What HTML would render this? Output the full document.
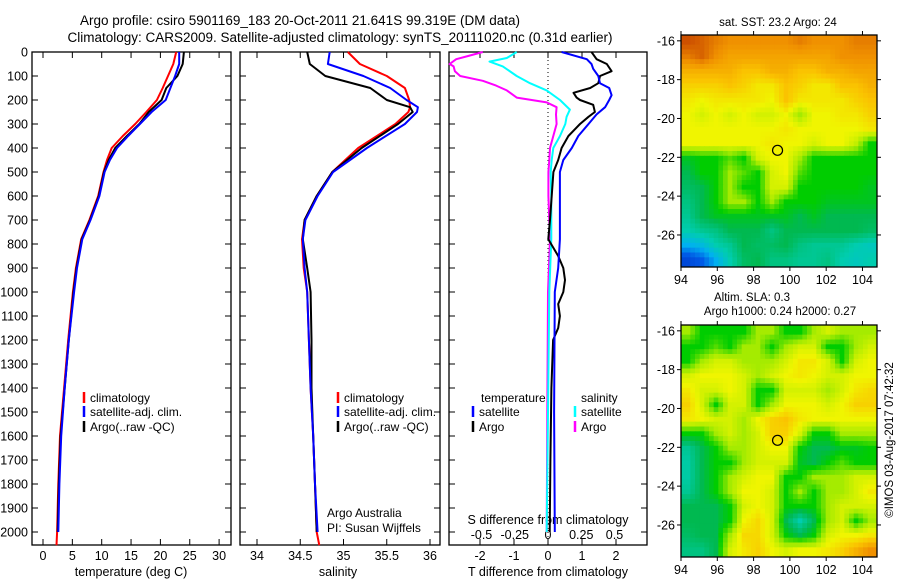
<!DOCTYPE html>
<html><head><meta charset="utf-8"><style>
body{margin:0;background:#fff}
svg{display:block;font-family:"Liberation Sans",sans-serif}
</style></head><body>
<svg id="c" width="900" height="580" viewBox="0 0 900 580">
<text x="300" y="25" font-size="13.5" text-anchor="middle">Argo profile: csiro 5901169_183 20-Oct-2011 21.641S 99.319E (DM data)</text>
<text x="340" y="42" font-size="13.5" text-anchor="middle">Climatology: CARS2009. Satellite-adjusted climatology: synTS_20111020.nc (0.31d earlier)</text>
<text x="778" y="26" font-size="11.5" text-anchor="middle">sat. SST: 23.2 Argo: 24</text>
<text x="752" y="301" font-size="11.5" text-anchor="middle">Altim. SLA: 0.3</text>
<text x="780" y="315" font-size="11.5" text-anchor="middle">Argo h1000: 0.24 h2000: 0.27</text>
<text transform="translate(893,440) rotate(-90)" font-size="11.5" text-anchor="middle">©IMOS 03-Aug-2017 07:42:32</text>
<g id="g"></g>
</svg>
<script>
// ---- data ----
const yTicks=[0,100,200,300,400,500,600,700,800,900,1000,1100,1200,1300,1400,1500,1600,1700,1800,1900,2000];
const tTicks=[0,5,10,15,20,25,30];
const sTicks=[34,34.5,35,35.5,36];
const tdTicks=[-2,-1,0,1,2];
const sdTicks=[-0.5,-0.25,0,0.25,0.5];
const sdTickLabels=["-0.5","-0.25","0","0.25","0.5"];
const tDepthRed=[0,50,100,150,200,250,300,350,400,450,500,600,700,780,900,1000,1200,1400,1600,1800,2000,2055];
const tRed=[22.7,22.2,21.3,20.4,19.4,17.6,15.7,13.6,11.7,10.9,10.3,9.4,7.9,6.5,5.6,5.1,4.3,3.6,2.9,2.6,2.4,2.3];
const tDepth=[0,50,100,150,200,250,300,350,400,450,500,600,700,780,900,1000,1200,1400,1600,1800,2000];
const tBlack=[24,23.8,22.9,21,20.2,18,16.4,14.3,12.3,11.2,10.4,9.5,8,6.6,5.7,5.2,4.4,3.7,3.0,2.7,2.5];
const tBlue=[23.2,23.2,22.5,21.7,20.9,18.5,16.5,14.5,12.6,11.4,10.5,9.6,8.1,6.7,5.8,5.3,4.4,3.7,3.1,2.8,2.6];
const sDepthRed=[0,50,100,150,200,230,250,300,400,500,600,700,780,900,1000,1200,1400,1600,1800,2000,2055];
const sRed=[35.05,35.19,35.5,35.71,35.76,35.77,35.75,35.6,35.17,34.87,34.69,34.55,34.52,34.54,34.58,34.6,34.62,34.65,34.67,34.69,34.72];
const sDepth=[0,50,100,150,200,230,250,300,400,500,600,700,780,900,1000,1200,1400,1600,1800,2000];
const sBlue=[34.84,34.82,35.23,35.54,35.73,35.86,35.85,35.71,35.27,34.88,34.70,34.56,34.53,34.55,34.58,34.6,34.62,34.65,34.67,34.70];
const sBlack=[34.58,34.61,34.79,35.31,35.5,35.77,35.8,35.63,35.21,34.87,34.69,34.55,34.53,34.58,34.62,34.63,34.63,34.65,34.67,34.69];
const dBlackDepth=[0,30,50,80,100,130,150,170,190,200,220,250,270,300,350,400,450,500,600,700,780,850,900,950,1000,1050,1100,1150,1200,1400,1700,2000];
const dBlackT=[1.28,1.43,1.73,1.87,1.53,1.48,1.24,0.75,0.84,0.94,1.33,1.38,1.19,0.94,0.6,0.4,0.3,0.16,0.11,0.06,0.01,0.3,0.45,0.5,0.45,0.3,0.35,0.3,0.15,0.1,0.07,0.05];
const dBlueDepth=[0,30,50,70,100,130,150,180,200,230,260,300,350,400,450,500,600,700,780,900,1000,1500,2000];
const dBlueT=[0.4,1.14,1.28,1.33,1.48,1.53,1.8,1.87,1.8,1.68,1.43,1.19,0.89,0.7,0.45,0.35,0.35,0.35,0.35,0.3,0.2,0.18,0.2];
const dCyanDepth=[0,25,40,60,100,130,160,200,240,270,300,350,400,450,500,600,700,780,1000,1500,2000];
const dCyanS=[-0.235,-0.31,-0.44,-0.34,-0.235,-0.135,-0.01,0.09,0.165,0.14,0.13,0.09,0.04,0.028,0.02,0.025,0.025,0.025,0.01,0.0,-0.01];
const dMagDepth=[0,15,30,50,60,80,100,120,140,160,190,210,230,260,300,350,400,450,500,600,780,1000,1500,2000];
const dMagS=[-0.49,-0.59,-0.69,-0.74,-0.71,-0.7,-0.66,-0.49,-0.39,-0.31,-0.235,-0.01,0.065,0.06,0.065,0.04,0.015,0.01,0.003,0.003,0.015,0.0,-0.005,-0.01];
const lonTicks=[94,96,98,100,102,104];
const latTicks=[-16,-18,-20,-22,-24,-26];
const sstGrid=[
[9,8.8,8.5,8.3,8.3,8.3,8.3,8.3,8.5,8.3,8.3,8.3,8.5,8.5],
[8.5,8.8,8.3,8,8,8,8,8,8,8,8,8.3,8.3,8.3],
[7.8,7.8,7.8,7.8,7.5,7.5,7.8,7.8,7.5,7.5,7.8,7.8,8,8],
[7.3,7.3,7.3,7.5,7.3,7,7,7.5,7.3,7,7,7.5,7.5,7.8],
[7,6.8,7,7,7,7,6.8,7.5,7,7,7,7,7.3,7.5],
[6.8,6.5,6.8,6.5,6.8,6.5,6.5,6.8,6,6.8,6.8,7,7,7.3],
[6.8,6.8,6.8,6.8,6.8,6.8,6.8,7,6.8,6.8,6.8,6.8,6.8,7],
[6.8,6.8,6.8,6.8,6.8,6.8,7,6.8,6.8,6.5,6.8,6.8,6.3,5],
[4.8,5,5,5.5,5,6.5,6.8,6.8,6,5,5,5,5,5],
[4.5,5,5,6,5.5,5,6.5,6.8,5.5,5,5,5,5,5],
[4.3,4.5,5,6,5,5,6.5,6.5,5,5,5,5,5,4.8],
[4,4.5,5,6,6,5,6,5,5,5,4.8,4.8,4.8,4.8],
[3.8,4.5,4.8,4.8,4.8,4.8,4.8,4.8,4.5,4.8,4.5,4.5,4.5,4.5],
[3.5,3.8,4,4.5,4.5,4.5,4,4.5,4.5,4.5,4.5,4.5,4.5,4.3],
[2.5,2.8,3.5,3.8,4.5,4.3,4.3,4.5,4,3.8,3.8,3.8,3.5,3.3],
[1,1.5,2.5,3.5,4.3,4.5,4,4,3.8,3.8,4,3.5,3.3,3.5]];
const slaGrid=[
[6,5,5,5,5,6,6,5,5,6,6.5,6,6,6],
[5,5,5.5,5,6,6,5,6,6.5,6.5,5,5,6,6.5],
[5,6,6.5,6.5,6,6,6,6.5,7,7,6.5,5,6.5,6.8],
[6.5,6.8,6.8,6.8,6.5,6,6.5,6.8,7,6.8,6.5,6.5,6.8,6.8],
[7,6.5,6.5,6.8,6.5,5,5,6.5,6.5,6.5,6,6.5,7,7.2],
[7.3,6.5,5,6.5,6.5,5,6,6.8,6.8,6.8,6.5,6.8,7.3,7.3],
[7,6.8,6.5,6.5,6,6.8,7.3,7.5,7,6.8,6.8,6.8,6.8,6.8],
[5,5,6,6.5,6,6.5,7.3,7.3,6.5,5,5,6,6,6],
[3.8,4.5,5,6,6,6.5,6.8,6.8,5,4.5,4.5,4.8,4.8,5],
[3.6,4.5,5,5,6,6.5,6.5,6.5,4.8,4.5,5,5.5,5,5],
[3.6,4.5,5,6,6.5,6.8,6.8,5,5,6,6,6,6.5,6.5],
[3.8,4.5,5,6,6.8,6.8,6.5,5,6,5,6,6,6.5,7],
[4.5,4.5,4.5,5,6.5,6.8,6.5,5,5,5,6,6.5,6.5,6.5],
[4.5,4.5,4.5,5,6.8,7.2,6.5,4.5,3.5,4.5,6,6.5,5,6],
[4.3,4.5,4.5,6,7.2,7.2,6.5,5,4.5,5,6.5,6.8,6.8,7],
[4,4,4.5,6.5,7,7.3,6.8,6.5,6.8,6.8,7,7.3,7.8,8.3]];
const argoLon=99.32, argoLat=-21.64;

// ---- drawing ----
const NS="http://www.w3.org/2000/svg";
const G=document.getElementById('g');
function mk(t,a,p){const e=document.createElementNS(NS,t);for(const k in a)e.setAttribute(k,a[k]);(p||G).appendChild(e);return e;}
const TOP=52, PXM=0.24;
const yD=d=>TOP+d*PXM;
const P1={l:32,r:231,x:v=>43+5.87*v};
const P2={l:240,r:440,x:v=>257+86.5*(v-34)};
const P3={l:449,r:647,x:v=>548+34*v,xs:v=>548+133*v};
const BOT=545;

function line(xs,ds,fx,color,name){
  let pts=xs.map((v,i)=>fx(v).toFixed(1)+','+yD(ds[i]).toFixed(1)).join(' ');
  const e=mk('polyline',{points:pts,fill:'none',stroke:color,'stroke-width':2,'stroke-linejoin':'round'});
  
  
}
function frame(P,name){
  const r=mk('rect',{x:P.l,y:TOP,width:P.r-P.l,height:BOT-TOP,fill:'none',stroke:'#000','stroke-width':1.3});
  
  
  yTicks.forEach(d=>{mk('line',{x1:P.l,x2:P.l+6,y1:yD(d),y2:yD(d),stroke:'#000'});mk('line',{x1:P.r-6,x2:P.r,y1:yD(d),y2:yD(d),stroke:'#000'});});
}
yTicks.forEach(d=>{const t=mk('text',{x:28,y:yD(d)+4.5,'font-size':12.5,'text-anchor':'end'});t.textContent=d;
  
  });
frame(P1,'temperature-panel');frame(P2,'salinity-panel');frame(P3,'difference-panel');
function xTicks(P,ticks,fx,labels,y,top){
  ticks.forEach((v,i)=>{const x=fx(v);
    mk('line',{x1:x,x2:x,y1:BOT,y2:BOT-6,stroke:'#000'});
    if(top)mk('line',{x1:x,x2:x,y1:TOP,y2:TOP+6,stroke:'#000'});
    const t=mk('text',{x:x,y:y,'font-size':12.5,'text-anchor':'middle'});t.textContent=labels?labels[i]:v;
    
    });
}
xTicks(P1,tTicks,P1.x,null,560,true);
xTicks(P2,sTicks,P2.x,null,560,true);
xTicks(P3,tdTicks,P3.x,null,560,true);
sdTicks.forEach((v,i)=>{const t=mk('text',{x:P3.xs(v),y:539,'font-size':12.5,'text-anchor':'middle'});t.textContent=sdTickLabels[i];
  
  });
[[131,576,'temperature (deg C)','temperature-axis-title'],[338,576,'salinity','salinity-axis-title'],[548,576,'T difference from climatology','t-diff-axis-title'],[548,524,'S difference from climatology','s-diff-axis-title']].forEach(a=>{
  const t=mk('text',{x:a[0],y:a[1],'font-size':12.5,'text-anchor':'middle'});t.textContent=a[2];
  
  });
mk('line',{x1:P3.x(0),x2:P3.x(0),y1:TOP,y2:BOT,stroke:'#000','stroke-dasharray':'1,3'});
line(tRed,tDepthRed,P1.x,'#f00','temp-climatology-line');
line(tBlack,tDepth,P1.x,'#000','temp-argo-line');
line(tBlue,tDepth,P1.x,'#00f','temp-satellite-line');
line(sRed,sDepthRed,P2.x,'#f00','sal-climatology-line');
line(sBlack,sDepth,P2.x,'#000','sal-argo-line');
line(sBlue,sDepth,P2.x,'#00f','sal-satellite-line');
line(dMagS,dMagDepth,P3.xs,'#f0f','s-diff-argo-line');
line(dCyanS,dCyanDepth,P3.xs,'#0ff','s-diff-satellite-line');
line(dBlackT,dBlackDepth,P3.x,'#000','t-diff-argo-line');
line(dBlueT,dBlueDepth,P3.x,'#00f','t-diff-satellite-line');
function leg(x,y,color,label,name){
  mk('line',{x1:x,x2:x,y1:y-10,y2:y+1,stroke:color,'stroke-width':2.5});
  const t=mk('text',{x:x+6,y:y,'font-size':12});t.textContent=label;
  
  
}
leg(84,402,'#f00','climatology','legend-climatology');leg(84,416,'#00f','satellite-adj. clim.','legend-satellite');leg(84,431,'#000','Argo(..raw -QC)','legend-argo');
leg(338,402,'#f00','climatology','legend-climatology-2');leg(338,416,'#00f','satellite-adj. clim.','legend-satellite-2');leg(338,431,'#000','Argo(..raw -QC)','legend-argo-2');
const tt=mk('text',{x:481,y:402,'font-size':12});tt.textContent='temperature';
const st=mk('text',{x:581,y:402,'font-size':12});st.textContent='salinity';
leg(473,416,'#00f','satellite','legend-t-satellite');leg(473,431,'#000','Argo','legend-t-argo');
leg(575,416,'#0ff','satellite','legend-s-satellite');leg(575,431,'#f0f','Argo','legend-s-argo');
const a1=mk('text',{x:327,y:517,'font-size':12});a1.textContent='Argo Australia';
const a2=mk('text',{x:327,y:532,'font-size':12});a2.textContent='PI: Susan Wijffels';
const stops=[[0,[0,40,190]],[1.5,[0,90,230]],[2.5,[0,176,240]],[3.5,[0,205,175]],[4.5,[0,185,80]],[5,[0,205,0]],[6,[165,235,0]],[6.8,[240,245,0]],[7.5,[250,195,0]],[8.3,[240,145,0]],[9,[205,80,0]]];
function col(v){for(let i=1;i<stops.length;i++){if(v<=stops[i][0]){const a=stops[i-1],b=stops[i],f=Math.max(0,(v-a[0])/(b[0]-a[0]));return 'rgb('+a[1].map((c,k)=>Math.round(c+(b[1][k]-c)*f)).join(',')+')';}}return 'rgb(205,80,0)';}
function sample(grid,fi,fj){
  const nr=grid.length,nc=grid[0].length;
  fi=Math.min(Math.max(fi,0),nr-1);fj=Math.min(Math.max(fj,0),nc-1);
  const i0=Math.floor(fi),j0=Math.floor(fj),i1=Math.min(i0+1,nr-1),j1=Math.min(j0+1,nc-1),a=fi-i0,b=fj-j0;
  return grid[i0][j0]*(1-a)*(1-b)+grid[i0][j1]*(1-a)*b+grid[i1][j0]*a*(1-b)+grid[i1][j1]*a*b;
}
function map(grid,top,name){
  const L=681,R=877,B=top+232,lon0=94,lon1=104.8,lat0=-15.7,lat1=-27.65;
  const mx=v=>L+(v-lon0)/(lon1-lon0)*(R-L), my=v=>top+(v-lat0)/(lat1-lat0)*(B-top);
  const g=mk('g',{});
  const nr=grid.length,nc=grid[0].length,S=3,cw=(R-L)/(nc*S),ch=(B-top)/(nr*S);
  for(let i=0;i<nr*S;i++)for(let j=0;j<nc*S;j++){
    const v=sample(grid,(i+0.5)/S-0.5,(j+0.5)/S-0.5);
    const c=mk('rect',{x:(L+j*cw).toFixed(2),y:(top+i*ch).toFixed(2),width:(cw+0.5).toFixed(2),height:(ch+0.5).toFixed(2),fill:col(v)},g);
    
    
  }
  mk('rect',{x:L,y:top,width:R-L,height:B-top,fill:'none',stroke:'#000','stroke-width':1.3});
  lonTicks.forEach(v=>{const x=mx(v);mk('line',{x1:x,x2:x,y1:top-4,y2:top,stroke:'#000'});mk('line',{x1:x,x2:x,y1:B,y2:B+4,stroke:'#000'});
    const t=mk('text',{x:x,y:B+17,'font-size':12.5,'text-anchor':'middle'});t.textContent=v;
    
    });
  latTicks.forEach(v=>{const y=my(v);mk('line',{x1:L-4,x2:L,y1:y,y2:y,stroke:'#000'});mk('line',{x1:R,x2:R+4,y1:y,y2:y,stroke:'#000'});
    const t=mk('text',{x:L-6,y:y+4.5,'font-size':12.5,'text-anchor':'end'});t.textContent=v;
    
    });
  const c=mk('circle',{cx:mx(argoLon),cy:my(argoLat),r:5,fill:'none',stroke:'#000','stroke-width':1.2});
  
  
}
map(sstGrid,35,'sst-map');
map(slaGrid,325,'sla-map');
</script>
</body></html>
